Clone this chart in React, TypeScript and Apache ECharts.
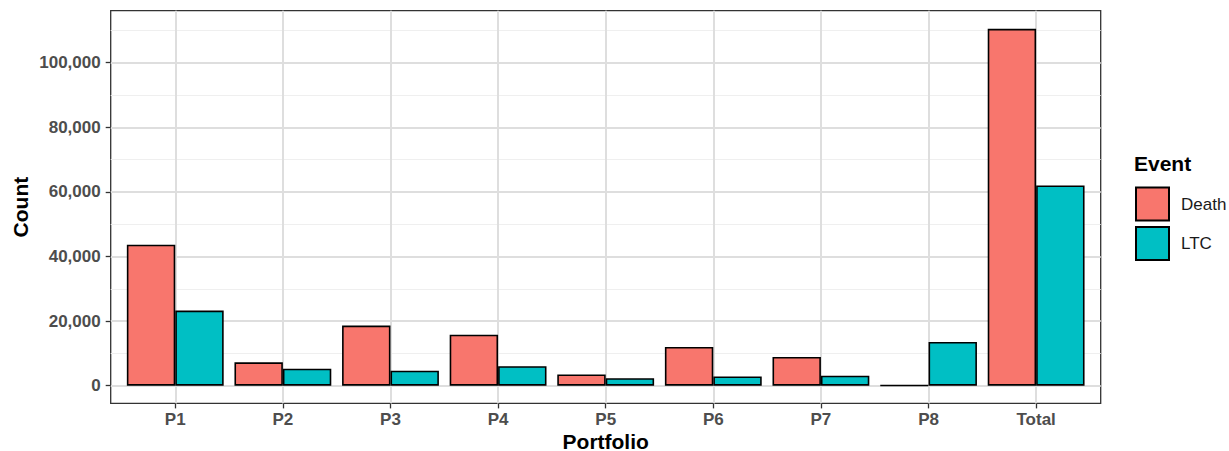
import React, { useEffect, useRef } from "react";
import * as echarts from "echarts";

const categories = ["P1", "P2", "P3", "P4", "P5", "P6", "P7", "P8", "Total"];
const deathValues = [43650, 7250, 18600, 15800, 3500, 12000, 8900, 100, 110500];
const ltcValues = [23250, 5280, 4650, 6050, 2300, 2850, 3100, 13550, 62000];
const seriesNames = ["Death", "LTC"];
const seriesColors = ["#F8766D", "#00BFC4"];
const Y_MAJOR_MAX = 100000;
const Y_MINOR_MAX = 110000;

// layout (pixels)
const PL = 110.7;
const PR = 1100.7;
const PT = 10.7;
const PB = 403.4;
const Y0 = 385.7;
const PX_PER_UNIT = 0.00323;
const STEP = (PR - PL) / 9.2;
const BAR_MAX = (Y0 - PT) / PX_PER_UNIT;

const FONT = "'Liberation Sans', Arial, sans-serif";

function fmt(v: number) {
  return v.toLocaleString("en-US");
}

export default function App() {
  const ref = useRef<HTMLDivElement>(null);
  useEffect(() => {
    if (!ref.current) return;
    const chart = echarts.init(ref.current, null, { renderer: "svg" });
    const option: any = {
      animation: false,
      backgroundColor: "#ffffff",
      grid: [
        // 0: panel border
        { left: PL, top: PT, width: PR - PL, height: PB - PT, show: true, borderColor: "#333333", borderWidth: 1.3, backgroundColor: "transparent", containLabel: false },
        // 1: major horizontal lines + y labels
        { left: PL, top: Y0 - Y_MAJOR_MAX * PX_PER_UNIT, width: PR - PL, height: Y_MAJOR_MAX * PX_PER_UNIT, containLabel: false },
        // 2: minor horizontal lines
        { left: PL, top: Y0 - Y_MINOR_MAX * PX_PER_UNIT, width: PR - PL, height: Y_MINOR_MAX * PX_PER_UNIT, containLabel: false },
        // 3: vertical lines + x labels
        { left: PL + 0.6 * STEP, top: PT, width: 8 * STEP, height: PB - PT, containLabel: false },
        // 4: bars
        { left: PL + 0.1 * STEP, top: PT, width: 9 * STEP, height: Y0 - PT, containLabel: false },
      ],
      xAxis: [
        { type: "value", gridIndex: 0, show: false, min: 0, max: 1 },
        { type: "value", gridIndex: 1, show: false, min: 0, max: 1 },
        { type: "value", gridIndex: 2, show: false, min: 0, max: 1 },
        {
          type: "value",
          gridIndex: 3,
          min: 0,
          max: categories.length - 1,
          interval: 1,
          position: "bottom",
          axisLine: { show: false },
          axisTick: { show: true, length: 5, lineStyle: { color: "#333333", width: 1.3 } },
          splitLine: { show: true, lineStyle: { color: "#DEDEDE", width: 2 } },
          axisLabel: {
            show: true,
            margin: 8,
            color: "#4D4D4D",
            fontSize: 17,
            fontWeight: "bold",
            fontFamily: FONT,
            formatter: (v: number) => categories[Math.round(v)] ?? "",
          },
        },
        { type: "category", gridIndex: 4, show: false, data: categories },
      ],
      yAxis: [
        { type: "value", gridIndex: 0, show: false, min: 0, max: 1 },
        {
          type: "value",
          gridIndex: 1,
          min: 0,
          max: Y_MAJOR_MAX,
          interval: 20000,
          axisLine: { show: false },
          axisTick: { show: true, length: 5, lineStyle: { color: "#333333", width: 1.3 } },
          splitLine: { show: true, lineStyle: { color: "#DEDEDE", width: 2 } },
          axisLabel: {
            show: true,
            margin: 10,
            color: "#4D4D4D",
            fontSize: 17,
            fontWeight: "bold",
            fontFamily: FONT,
            formatter: (v: number) => fmt(v),
          },
          z: 1,
        },
        {
          type: "value",
          gridIndex: 2,
          min: 0,
          max: Y_MINOR_MAX,
          interval: 10000,
          axisLine: { show: false },
          axisTick: { show: false },
          axisLabel: { show: false },
          splitLine: { show: true, lineStyle: { color: ["transparent", "#EFEFEF"], width: 1 } },
          z: 0,
        },
        { type: "value", gridIndex: 3, show: false, min: 0, max: 1, splitLine: { show: false } },
        { type: "value", gridIndex: 4, show: false, min: 0, max: BAR_MAX, splitLine: { show: false } },
      ],
      legend: {
        orient: "vertical",
        left: 1135,
        top: 186.5,
        padding: 0,
        itemWidth: 33,
        itemHeight: 33,
        itemGap: 4.6,
        icon: "rect",
        data: seriesNames,
        textStyle: { fontSize: 17, color: "#1A1A1A", fontFamily: FONT, padding: [0, 0, 0, 7] },
      },
      graphic: [
        {
          type: "text",
          left: 1134,
          top: 153,
          style: { text: "Event", fontSize: 21, fontWeight: "bold", fill: "#000", fontFamily: FONT },
        },
        {
          type: "text",
          x: (PL + PR) / 2,
          y: 441,
          style: { text: "Portfolio", fontSize: 21, fontWeight: "bold", fill: "#000", fontFamily: FONT, align: "center", verticalAlign: "middle" },
        },
        {
          type: "text",
          x: 20,
          y: (PT + PB) / 2,
          rotation: Math.PI / 2,
          style: { text: "Count", fontSize: 21, fontWeight: "bold", fill: "#000", fontFamily: FONT, align: "center", verticalAlign: "middle" },
        },
      ],
      series: [
        {
          name: seriesNames[0],
          type: "bar",
          xAxisIndex: 4,
          yAxisIndex: 4,
          data: deathValues,
          barGap: "0%",
          barCategoryGap: "10%",
          itemStyle: { color: seriesColors[0], borderColor: "#000000", borderWidth: 1.6 },
        },
        {
          name: seriesNames[1],
          type: "bar",
          xAxisIndex: 4,
          yAxisIndex: 4,
          data: ltcValues,
          barGap: "0%",
          barCategoryGap: "10%",
          itemStyle: { color: seriesColors[1], borderColor: "#000000", borderWidth: 1.6 },
        },
      ],
    };
    chart.setOption(option);
    return () => chart.dispose();
  }, []);
  return (
    <div
      ref={ref}
      style={{ position: "fixed", left: 0, top: 0, width: 1229, height: 451 }}
    />
  );
}
